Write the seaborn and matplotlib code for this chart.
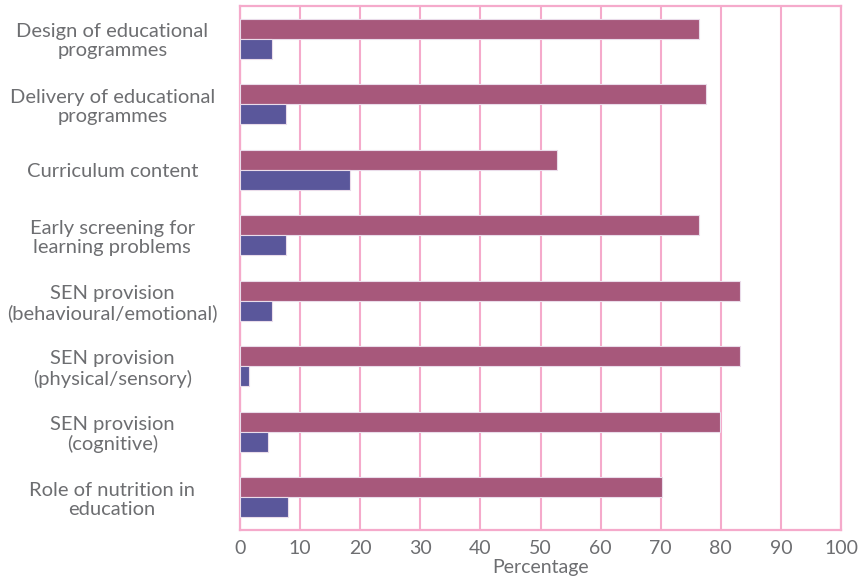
import pandas as pd
import seaborn as sns
import matplotlib.pyplot as plt
import numpy as np

categories = [
    "Design of educational\nprogrammes",
    "Delivery of educational\nprogrammes",
    "Curriculum content",
    "Early screening for\nlearning problems",
    "SEN provision\n(behavioural/emotional)",
    "SEN provision\n(physical/sensory)",
    "SEN provision\n(cognitive)",
    "Role of nutrition in\neducation",
]
series_a = [76.3, 77.5, 52.8, 76.3, 83.2, 83.2, 79.9, 70.2]
series_b = [5.3, 7.6, 18.3, 7.6, 5.4, 1.5, 4.7, 8.0]
series_names = ["Series A", "Series B"]
x_ticks = list(range(0, 101, 10))

df = pd.DataFrame({
    "Category": categories * 2,
    "Percentage": series_a + series_b,
    "Series": [series_names[0]] * len(categories) + [series_names[1]] * len(categories),
})

sns.set_style("white")
plt.rcParams['font.family'] = ['Lato', 'DejaVu Sans']

pink = "#f5aacb"
grey = "#6d6e71"

fig = plt.figure(figsize=(8.61, 5.82), dpi=100)
ax = fig.add_axes([240 / 861, 1 - 530 / 582, 601 / 861, 524 / 582])

sns.barplot(data=df, y="Category", x="Percentage", hue="Series", order=categories,
            hue_order=series_names, palette=["#a7587b", "#5a579b"], orient="h",
            width=0.61, gap=0, legend=False, saturation=1, edgecolor="#eadcea",
            linewidth=0.8, ax=ax, zorder=3)

ax.set_xlim(0, 100)
ax.set_ylim(len(categories) - 0.5, -0.5)
ax.set_xticks(x_ticks)
ax.set_xticklabels([str(t) for t in x_ticks], color=grey, fontsize=14)
ax.set_yticks(range(len(categories)))
ax.set_yticklabels(categories, color=grey, fontsize=14.5, ha="center", linespacing=1.15)
ax.set_yticks(np.arange(-0.5, len(categories), 1), minor=True)
ax.tick_params(axis="y", which="major", length=0, pad=92)
ax.tick_params(axis="y", which="minor", length=7, width=1.4, color=pink)
ax.tick_params(axis="x", length=5, width=1.4, color=pink, pad=2)

ax.xaxis.grid(True, color=pink, linewidth=1.5, zorder=0)
ax.set_axisbelow(True)
for s in ax.spines.values():
    s.set_color(pink)
    s.set_linewidth(1.6)

ax.set_ylabel("")
ax.set_xlabel("Percentage", color=grey, fontsize=14, labelpad=2)

plt.savefig("out.png", dpi=100)
